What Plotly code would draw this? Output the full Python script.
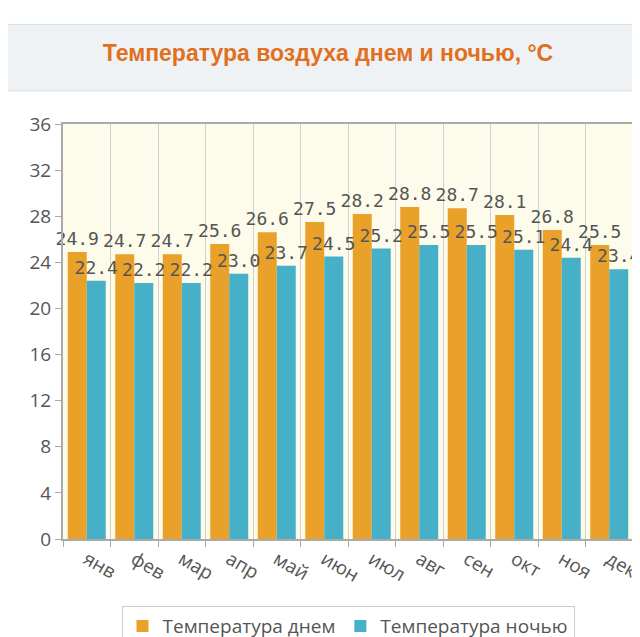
import plotly.graph_objects as go

months = ['янв', 'фев', 'мар', 'апр', 'май', 'июн', 'июл', 'авг', 'сен', 'окт', 'ноя', 'дек']
day_temp = [24.9, 24.7, 24.7, 25.6, 26.6, 27.5, 28.2, 28.8, 28.7, 28.1, 26.8, 25.5]
night_temp = [22.4, 22.2, 22.2, 23.0, 23.7, 24.5, 25.2, 25.5, 25.5, 25.1, 24.4, 23.4]

label_font = dict(family='DejaVu Sans Mono', size=18, color='#555')

fig = go.Figure()
fig.add_trace(go.Bar(x=months, y=day_temp, name='Температура днем', marker=dict(color='#eaa12a', line=dict(width=0)),
                     text=[f'{v:.1f}' for v in day_temp], textposition='outside', cliponaxis=False,
                     constraintext='none', textfont=label_font))
fig.add_trace(go.Bar(x=months, y=night_temp, name='Температура ночью', marker=dict(color='#45b0c8', line=dict(width=0)),
                     text=[f'{v:.1f}' for v in night_temp], textposition='outside', cliponaxis=False,
                     constraintext='none', textfont=label_font))

# header band
fig.add_shape(type='rect', xref='paper', yref='paper', x0=-0.1, x1=1.05, y0=1.08, y1=1.24,
              fillcolor='#eef2f5', line=dict(color='#d8dde2', width=1), layer='below')

fig.update_layout(
    width=640, height=637,
    margin=dict(l=55, r=15, t=116, b=106, autoexpand=False),
    paper_bgcolor='white', plot_bgcolor='#fdfbea',
    title=dict(text='<b>Температура воздуха днем и ночью, °C</b>', x=0.5, y=0.93, xanchor='center',
               yanchor='middle', font=dict(family='Liberation Sans', size=23, color='#e0701e')),
    barmode='group', bargap=0.2, bargroupgap=0,
    font=dict(family='Open Sans', color='#555'),
    xaxis=dict(showgrid=True, gridcolor='#d0d0d0', tickson='boundaries', tickfont=dict(size=19),
               ticks='outside', ticklen=6, tickcolor='#aaa', showline=True, linecolor='#aaa', linewidth=2,
               mirror=True),
    yaxis=dict(range=[0, 36], dtick=4, showgrid=False, tickfont=dict(size=19),
               ticks='outside', ticklen=6, tickcolor='#aaa', showline=True, linecolor='#aaa', linewidth=2,
               mirror=True, zeroline=False),
    legend=dict(orientation='h', x=0.5, xanchor='center', y=-0.21, yanchor='middle',
                bordercolor='#ccc', borderwidth=1, font=dict(size=19)),
    showlegend=True,
)
fig.write_html('out.html')
